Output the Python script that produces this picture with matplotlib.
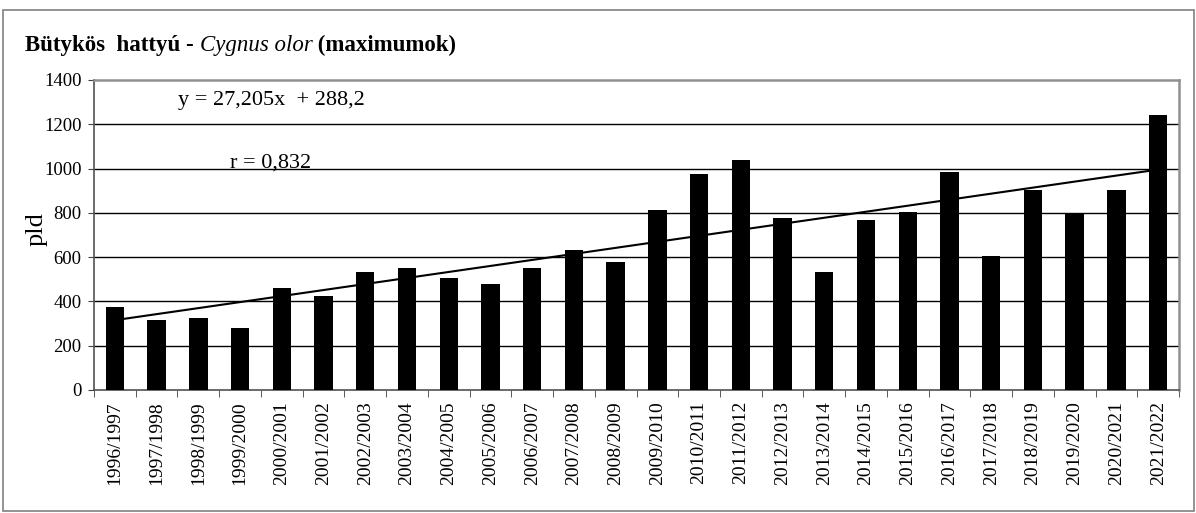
import matplotlib
matplotlib.use("Agg")
import matplotlib.pyplot as plt
import matplotlib.patches as mpatches
import numpy as np

# seasons and max counts (pld)
seasons = ["1996/1997", "1997/1998", "1998/1999", "1999/2000", "2000/2001",
           "2001/2002", "2002/2003", "2003/2004", "2004/2005", "2005/2006",
           "2006/2007", "2007/2008", "2008/2009", "2009/2010", "2010/2011",
           "2011/2012", "2012/2013", "2013/2014", "2014/2015", "2015/2016",
           "2016/2017", "2017/2018", "2018/2019", "2019/2020", "2020/2021",
           "2021/2022"]
maxima = [375, 315, 324, 278, 459, 423, 531, 549, 504, 477, 549, 631, 577,
          814, 976, 1039, 777, 532, 768, 805, 986, 605, 905, 795, 905, 1241]

# trend line as printed on the chart
slope = 27.205
intercept = 288.2
r_value = "0,832"

y_ticks = [0, 200, 400, 600, 800, 1000, 1200, 1400]

plt.rcParams['font.family'] = ['Liberation Serif', 'DejaVu Serif']

W, H = 1196, 513
fig = plt.figure(figsize=(W / 100, H / 100), dpi=100)

# outer chart frame
fig.patches.append(mpatches.Rectangle((3 / W, 1 - 511 / H), 1191 / W, 501 / H,
                                      transform=fig.transFigure, fill=False,
                                      edgecolor='#808080', lw=1.2))

left, right, top, bottom = 94, 1179, 80, 390
ax = fig.add_axes([left / W, 1 - bottom / H, (right - left) / W, (bottom - top) / H])

x = np.arange(len(seasons))
ax.bar(x, maxima, width=0.44, color='black', zorder=3)

xs = np.arange(1, len(seasons) + 1)
ax.plot(x, slope * xs + intercept, color='black', lw=1.5, zorder=4)

ax.set_xlim(-0.5, len(seasons) - 0.5)
ax.set_ylim(0, 1400)
ax.set_yticks(y_ticks)
ax.set_yticklabels([str(v) for v in y_ticks], fontsize=13.5)
for v in y_ticks[1:-1]:
    ax.axhline(v, color='black', lw=1, zorder=1)

ax.set_xticks(x)
ax.set_xticklabels(seasons, rotation=90, fontsize=14)
ax.set_xticks(np.arange(-0.5, len(seasons), 1), minor=True)
ax.tick_params(axis='x', which='major', length=0, pad=8)
ax.tick_params(axis='x', which='minor', length=5, direction='out', color='#404040')
ax.tick_params(axis='y', length=4, direction='out', color='#404040', pad=5)

for s in ['left', 'bottom']:
    ax.spines[s].set_color('#505050')
    ax.spines[s].set_linewidth(1.2)
for s in ['top', 'right']:
    ax.spines[s].set_color('#909090')
    ax.spines[s].set_linewidth(1.8)

fig.text(37 / W, 1 - 229 / H, 'pld', fontsize=19, rotation=90, va='center', ha='center')

ty = 1 - 45 / H
t1 = fig.text(25 / W, ty, 'Bütykös  hattyú - ', fontsize=16.5, fontweight='bold',
              va='center', ha='left')
fig.canvas.draw()
r = fig.canvas.get_renderer()
bb = t1.get_window_extent(r)
t2 = fig.text(bb.x1 / W, ty, 'Cygnus olor', fontsize=16.5, fontstyle='italic',
              va='center', ha='left')
bb2 = t2.get_window_extent(r)
fig.text(bb2.x1 / W, ty, ' (maximumok)', fontsize=16.5, fontweight='bold',
         va='center', ha='left')

fig.text(178 / W, 1 - 101 / H, 'y = 27,205x  + 288,2', fontsize=16, va='center', ha='left')
fig.text(230 / W, 1 - 163 / H, 'r = ' + r_value, fontsize=16, va='center', ha='left')

fig.savefig('out.png', dpi=100)
